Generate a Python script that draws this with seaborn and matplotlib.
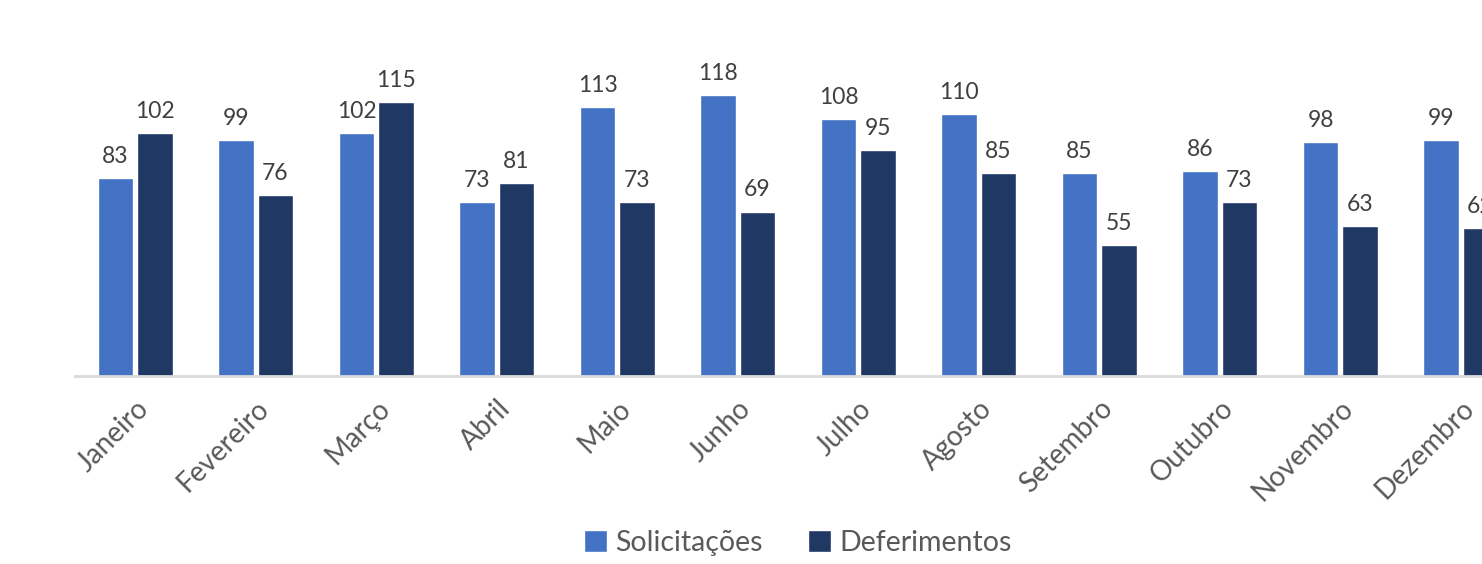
import matplotlib
matplotlib.use("Agg")
import matplotlib.pyplot as plt
import seaborn as sns
import pandas as pd

months = ["Janeiro", "Fevereiro", "Março", "Abril", "Maio", "Junho",
          "Julho", "Agosto", "Setembro", "Outubro", "Novembro", "Dezembro"]
solicitacoes = [83, 99, 102, 73, 113, 118, 108, 110, 85, 86, 98, 99]
deferimentos = [102, 76, 115, 81, 73, 69, 95, 85, 55, 73, 63, 62]
series_names = ["Solicitações", "Deferimentos"]
colors = ["#4472C4", "#203864"]

df = pd.DataFrame({
    "Mês": months * 2,
    "Série": [series_names[0]] * len(months) + [series_names[1]] * len(months),
    "Valor": solicitacoes + deferimentos,
})

sns.set_theme(style="white")
plt.rcParams["font.family"] = ["Lato", "DejaVu Sans"]

W, H = 1482, 564
fig = plt.figure(figsize=(W / 100, H / 100), dpi=100)
ax_left, ax_bottom = 75 / W, (H - 376) / H
ax_w, ax_h = 1446 / W, 336 / H
ax = fig.add_axes([ax_left, ax_bottom, ax_w, ax_h])

sns.barplot(data=df, x="Mês", y="Valor", hue="Série", order=months,
            hue_order=series_names, palette=colors, width=0.655, gap=0.1,
            saturation=1, ax=ax, legend=True)

ax.set_ylim(0, 141)
ax.set_xlim(-0.5, len(months) - 0.5)
ax.set_xlabel("")
ax.set_ylabel("")
ax.set_yticks([])
for s in ["top", "right", "left"]:
    ax.spines[s].set_visible(False)
ax.spines["bottom"].set_color("#D9D9D9")
ax.spines["bottom"].set_linewidth(2)
ax.tick_params(axis="x", length=0, pad=14)
plt.setp(ax.get_xticklabels(), rotation=45, ha="right", rotation_mode="anchor",
         fontsize=20, color="#595959")

for cont in ax.containers:
    ax.bar_label(cont, padding=8, fontsize=16.5, color="#404040")

leg = ax.legend(loc="center", bbox_to_anchor=(0.5, -0.497), ncol=2, frameon=False,
                fontsize=20.5, handlelength=0.8, handleheight=0.8, columnspacing=1.6,
                handletextpad=0.3, labelcolor="#595959")

fig.savefig("out.png", dpi=100)
